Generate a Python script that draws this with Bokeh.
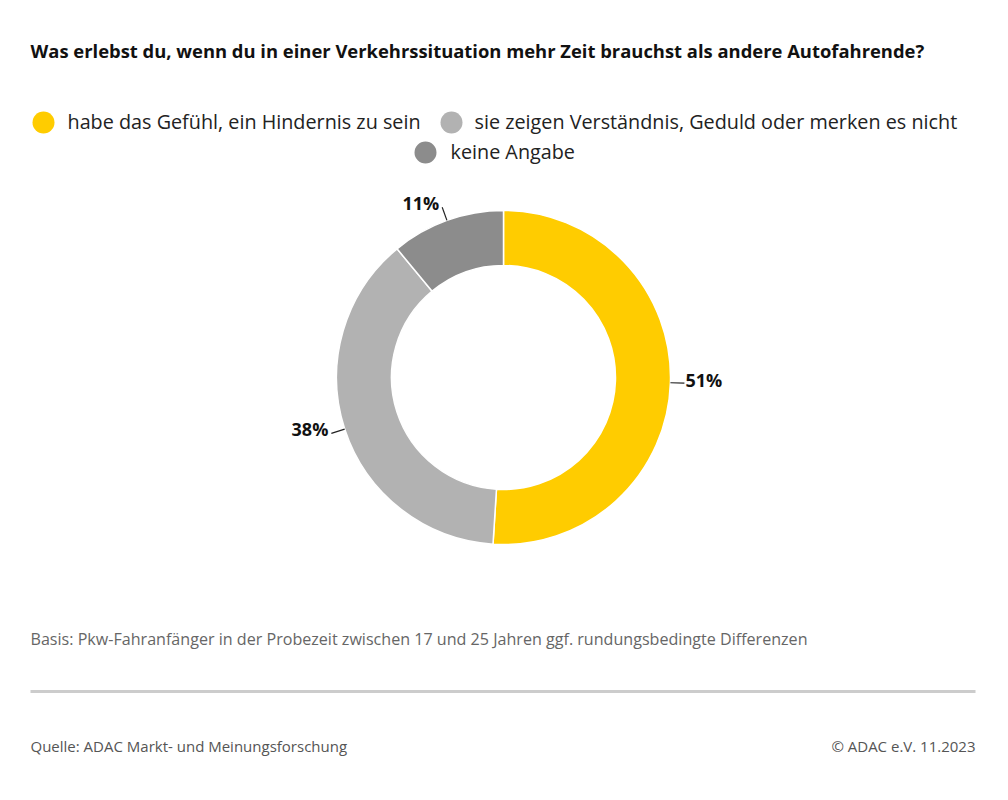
import math
from bokeh.plotting import figure
from bokeh.models import Range1d, ColumnDataSource
from bokeh.core.properties import value
from bokeh.embed import file_html
from bokeh.resources import INLINE

# ---- data ----
categories = ["habe das Gefühl, ein Hindernis zu sein",
              "sie zeigen Verständnis, Geduld oder merken es nicht",
              "keine Angabe"]
values = [51, 38, 11]
colors = ["#FFCC00", "#B2B2B2", "#8C8C8C"]

title = "Was erlebst du, wenn du in einer Verkehrssituation mehr Zeit brauchst als andere Autofahrende?"
note = "Basis: Pkw-Fahranfänger in der Probezeit zwischen 17 und 25 Jahren ggf. rundungsbedingte Differenzen"
source_txt = "Quelle: ADAC Markt- und Meinungsforschung"
copyright_txt = "© ADAC e.V. 11.2023"

W, H = 992, 784
FONT = "Open Sans"

def X(px):
    return px

def Y(py):
    return H - py

p = figure(width=W, height=H, x_range=Range1d(0, W), y_range=Range1d(0, H),
           output_backend="svg", toolbar_location=None, min_border=0)
p.axis.visible = False
p.grid.visible = False
p.outline_line_color = None
p.background_fill_color = "white"
p.border_fill_color = "white"

# ---- donut ----
cx, cy = X(503), Y(377)
r_out, r_in = 167, 112
total = sum(values)
starts, ends, mids = [], [], []
cum = 0
for v in values:
    a0 = math.pi / 2 - 2 * math.pi * cum / total
    cum += v
    a1 = math.pi / 2 - 2 * math.pi * cum / total
    starts.append(a0)
    ends.append(a1)
    mids.append((a0 + a1) / 2)

src = ColumnDataSource(dict(start=starts, end=ends, color=colors,
                            x=[cx] * 3, y=[cy] * 3))
p.annular_wedge(x="x", y="y", inner_radius=r_in, outer_radius=r_out,
                start_angle="start", end_angle="end", direction="clock",
                fill_color="color", line_color="white", line_width=1.5,
                source=src)

# ---- labels with leader lines ----
for v, m in zip(values, mids):
    x0 = cx + r_out * math.cos(m)
    y0 = cy + r_out * math.sin(m)
    x1 = cx + (r_out + 14) * math.cos(m)
    y1 = cy + (r_out + 14) * math.sin(m)
    p.line([x0, x1], [y0, y1], line_color="#222222", line_width=1.2)
    c = math.cos(m)
    if c > 0.3:
        align, tx, ty, base = "left", x1 + 1, y1 + 3, "middle"
    elif c < -0.3:
        align, tx, ty, base = "right", x1 - 3, y1 + 4, "middle"
    else:
        align, tx, ty, base = "right", x1 + 1, y1 + 7, "middle"
    p.text(x=[tx], y=[ty], text=[f"{v}%"], text_font=value(FONT),
           text_font_style="bold", text_font_size="18px", text_color="#111111",
           text_align=align, text_baseline=base)

# ---- title ----
p.text(x=[X(30)], y=[Y(50)], text=[title], text_font=value(FONT),
       text_font_style="bold", text_font_size="18.4px", text_color="#111111",
       text_align="left", text_baseline="middle")

# ---- legend ----
leg_marker_x = [X(43), X(451), X(425)]
leg_y = [Y(122), Y(122), Y(152)]
leg_text_x = [X(67), X(474), X(450)]
p.scatter(x=leg_marker_x, y=leg_y, size=22, marker="circle",
          fill_color=colors, line_color=None)
p.text(x=leg_text_x, y=[yy + 1 for yy in leg_y], text=categories, text_font=value(FONT),
       text_font_size="19.8px", text_color="#222222",
       text_align="left", text_baseline="middle")

# ---- footnote ----
p.text(x=[X(30)], y=[Y(638)], text=[note], text_font=value(FONT),
       text_font_size="16.1px", text_color="#666666",
       text_align="left", text_baseline="middle")

p.line([X(30), X(975)], [Y(691), Y(691)], line_color="#CCCCCC", line_width=3)

p.text(x=[X(30)], y=[Y(745)], text=[source_txt], text_font=value(FONT),
       text_font_size="15px", text_color="#555555",
       text_align="left", text_baseline="middle")
p.text(x=[X(975)], y=[Y(745)], text=[copyright_txt], text_font=value(FONT),
       text_font_size="15px", text_color="#555555",
       text_align="right", text_baseline="middle")

open("out.html", "w").write(file_html(p, INLINE))
